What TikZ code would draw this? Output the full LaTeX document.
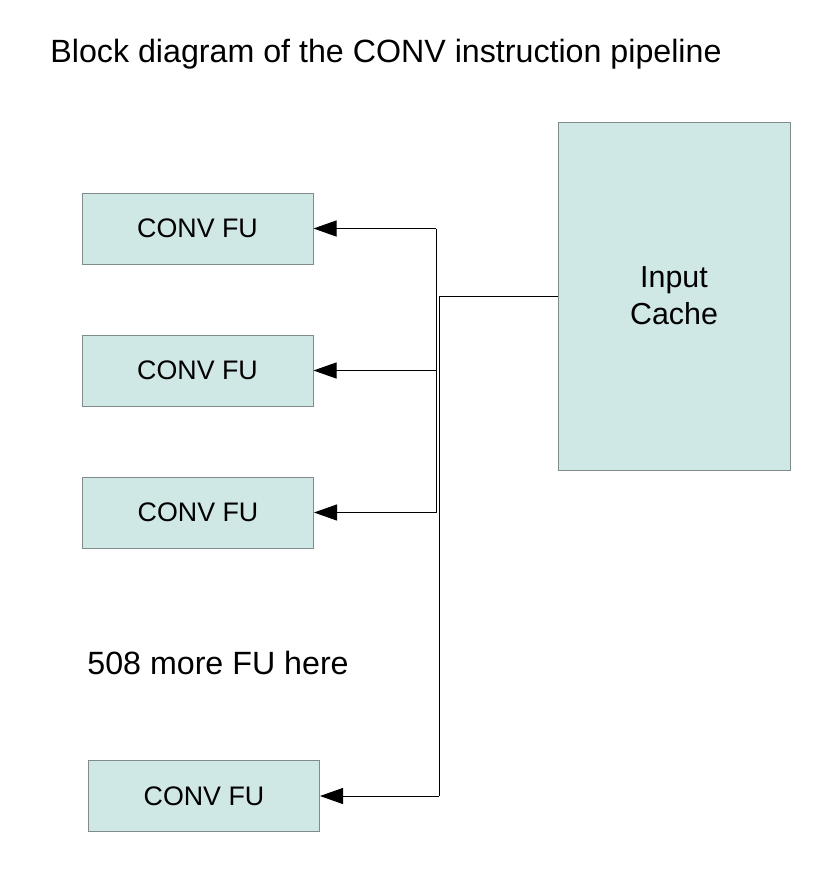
\documentclass[tikz,border=0pt]{standalone}
\usepackage{fontspec}
\setmainfont{Liberation Sans}
\usepackage{xcolor}
\usetikzlibrary{positioning,arrows.meta}
\definecolor{fufill}{HTML}{CFE7E5}
\definecolor{fuedge}{HTML}{7F8C8B}
\tikzstyle{fubox}=[rectangle, draw=fuedge, line width=0.5pt, fill=fufill, inner sep=0pt,
        minimum width=115.5pt, minimum height=35.5pt, text centered,
        font=\fontsize{13.4pt}{16pt}\selectfont]
\tikzstyle{cachebox}=[fubox, minimum width=116pt, minimum height=174pt, align=center,
        font=\fontsize{15.2pt}{18.5pt}\selectfont]
\tikzstyle{label}=[anchor=base west, inner sep=0pt, font=\fontsize{16.1pt}{19pt}\selectfont]
\tikzstyle{wire}=[line width=0.5pt, black]
\tikzstyle{fuarrow}=[wire, -{Triangle[length=11.5pt,width=8pt]}]

\begin{document}
\begin{tikzpicture}[x=0.5pt, y=-0.5pt]
      \useasboundingbox (0,0) rectangle (836,890);
      % title and note
      \node (Title) [label] at (50,62) {Block diagram of the CONV instruction pipeline};
      \node (MoreFU) [label] at (87,674) {508 more FU here};
      % blocks
      \node (Cache) [cachebox] at (674,296) {Input\\Cache};
      \node (FUa) [fubox] at (197.5,228.5) {CONV FU};
      \node (FUb) [fubox] at (197.5,370.5) {CONV FU};
      \node (FUc) [fubox] at (198,512.5) {CONV FU};
      \node (FUd) [fubox] at (204,796) {CONV FU};
      % bus junctions
      \coordinate (BusTop) at (436,228.5);
      \coordinate (BusMid) at (436,512.5);
      \coordinate (FeedIn) at (439,296);
      \coordinate (FeedEnd) at (439,796);
      % wiring
      \draw[wire] (Cache.west) -- (FeedIn) -- (FeedEnd);
      \draw[wire] (BusTop) -- (BusMid);
      \draw[fuarrow] (BusTop) -- (FUa.east);
      \draw[fuarrow] (FUb.east -| BusTop) -- (FUb.east);
      \draw[fuarrow] (BusMid) -- (FUc.east);
      \draw[fuarrow] (FeedEnd) -- (FUd.east);
\end{tikzpicture}
\end{document}
